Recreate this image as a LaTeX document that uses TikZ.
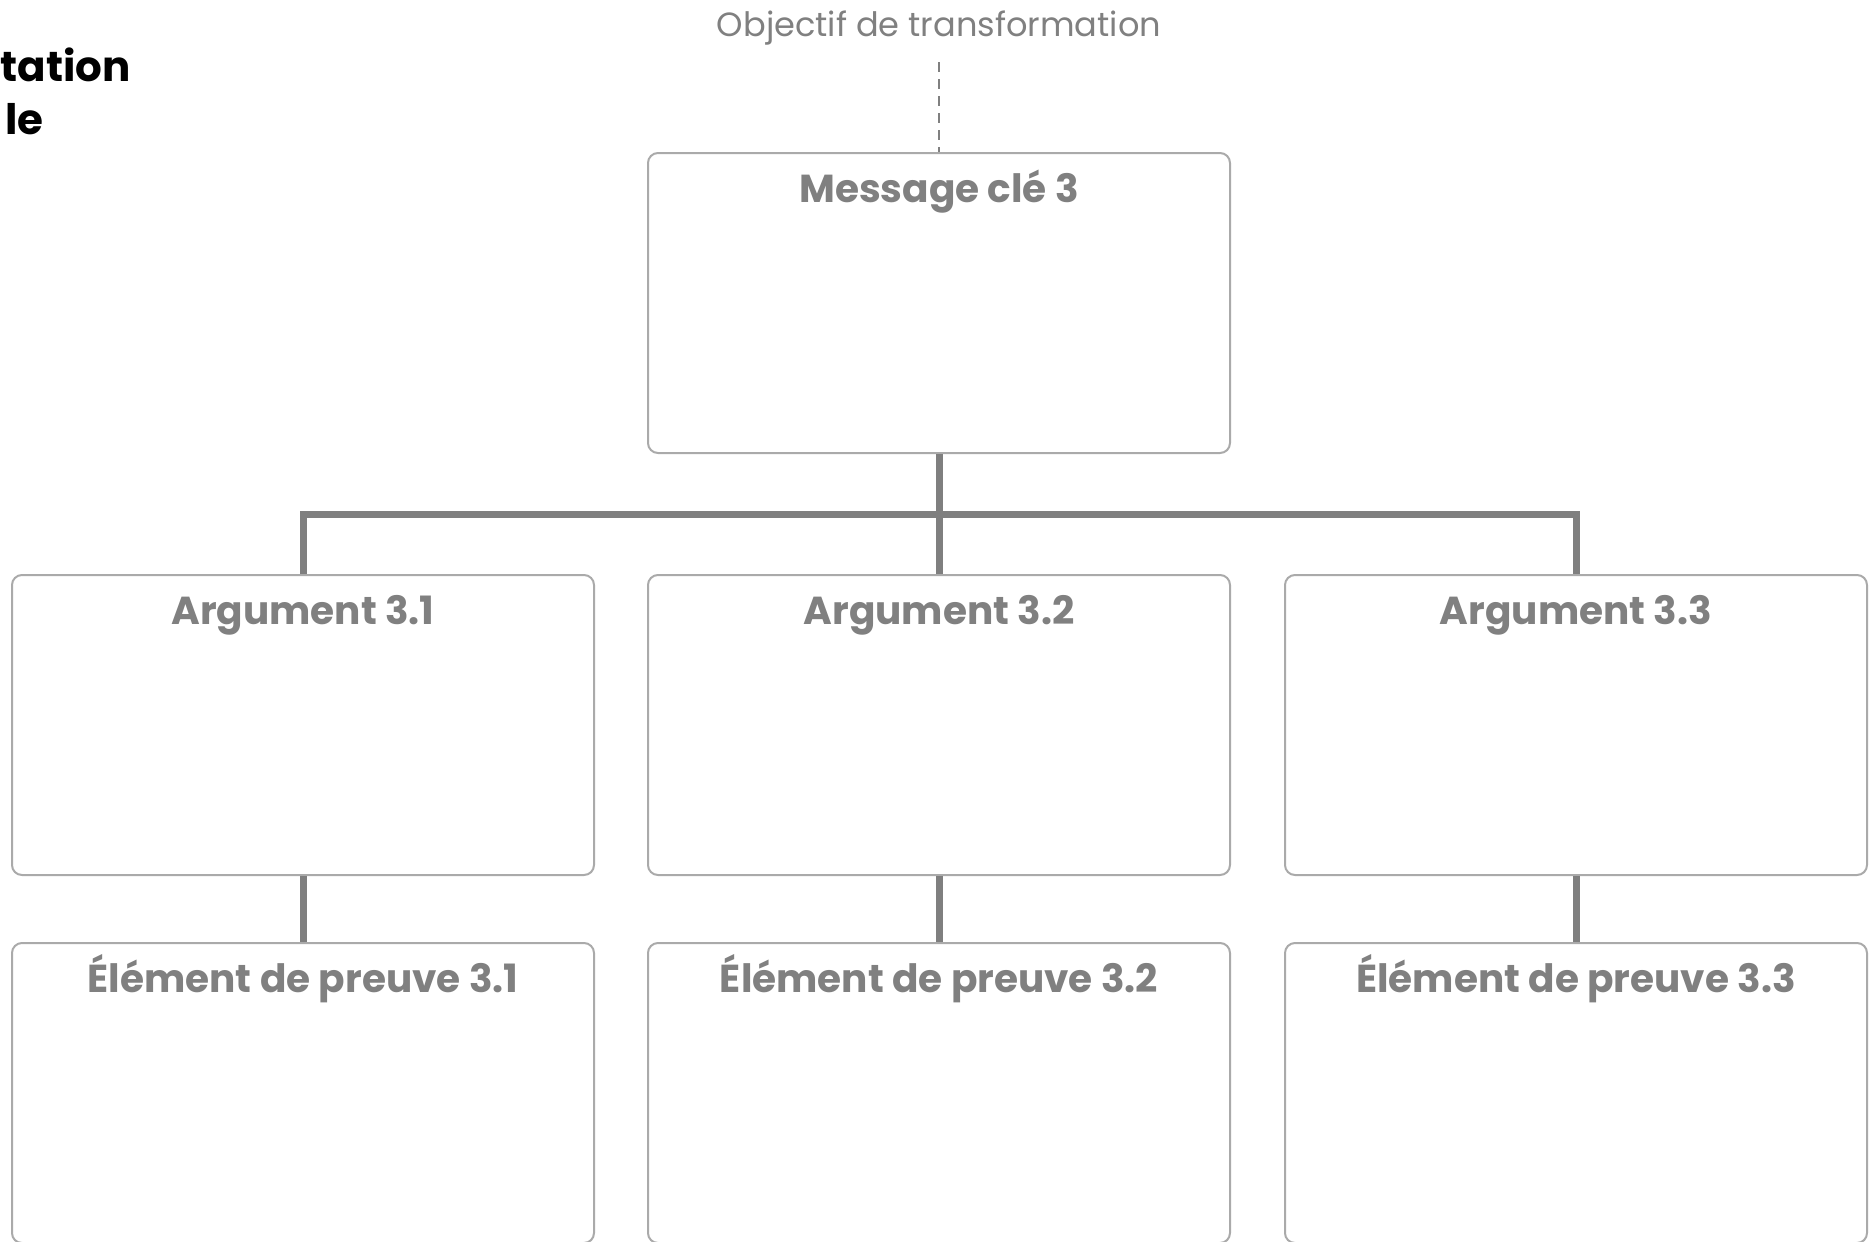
\documentclass[tikz,border=0pt]{standalone}
\usepackage{fontspec}
\setmainfont{Poppins}
\usepackage{xcolor}
\usetikzlibrary{positioning}
\definecolor{boxgray}{HTML}{AAAAAA}
\definecolor{linkgray}{HTML}{7F7F7F}
\definecolor{textgray}{HTML}{808080}

\begin{document}
\begin{tikzpicture}[x=0.5pt, y=-0.5pt, line join=round,
  card/.style={draw=boxgray, line width=1pt, rounded corners=5pt, fill=white,
    minimum width=291pt, minimum height=150pt, inner sep=0pt},
  cardtitle/.style={anchor=base, inner sep=0pt, text=textgray, font=\fontsize{19.5}{23}\selectfont\bfseries},
  heading/.style={anchor=base east, inner sep=0pt, font=\fontsize{21}{25}\selectfont\bfseries},
  link/.style={draw=linkgray, line width=3.5pt, line join=miter}]
  \useasboundingbox (0,0) rectangle (1874,1242);
  % heading, cut off at the left edge
  \node (headA) [heading] at (131,81) {tation};
  \node (headB) [heading] at (44,134) {le};
  % goal
  \node (goal) [anchor=base, inner sep=0pt, text=textgray, font=\fontsize{16.8}{20}\selectfont] at (939,36) {Objectif de transformation};
  \coordinate (goalend) at (939,62);
  % boxes
  \node (msg) [card] at (939,303) {};
  \node (arg1) [card] at (303,725) {};
  \node (arg2) [card] at (939,725) {};
  \node (arg3) [card] at (1576,725) {};
  \node (prv1) [card] at (303,1093) {};
  \node (prv2) [card] at (939,1093) {};
  \node (prv3) [card] at (1576,1093) {};
  \coordinate (bus) at (939,514);
  % titles
  \node (msgT) [cardtitle] at ([yshift=-25pt]msg.north) {Message clé 3};
  \node (arg1T) [cardtitle] at ([yshift=-25pt]arg1.north) {Argument 3.1};
  \node (arg2T) [cardtitle] at ([yshift=-25pt]arg2.north) {Argument 3.2};
  \node (arg3T) [cardtitle] at ([yshift=-25pt]arg3.north) {Argument 3.3};
  \node (prv1T) [cardtitle] at ([yshift=-25pt]prv1.north) {Élément de preuve 3.1};
  \node (prv2T) [cardtitle] at ([yshift=-25pt]prv2.north) {Élément de preuve 3.2};
  \node (prv3T) [cardtitle] at ([yshift=-25pt]prv3.north) {Élément de preuve 3.3};
  % connectors
  \draw[draw=textgray, line width=1.2pt, dash pattern=on 5pt off 3.5pt] (goalend) -- (msg.north);
  \draw[link] (msg.south) -- (arg2.north);
  \draw[link] (arg1.north) |- (bus) -| (arg3.north);
  \draw[link] (arg1.south) -- (prv1.north);
  \draw[link] (arg2.south) -- (prv2.north);
  \draw[link] (arg3.south) -- (prv3.north);
\end{tikzpicture}
\end{document}
